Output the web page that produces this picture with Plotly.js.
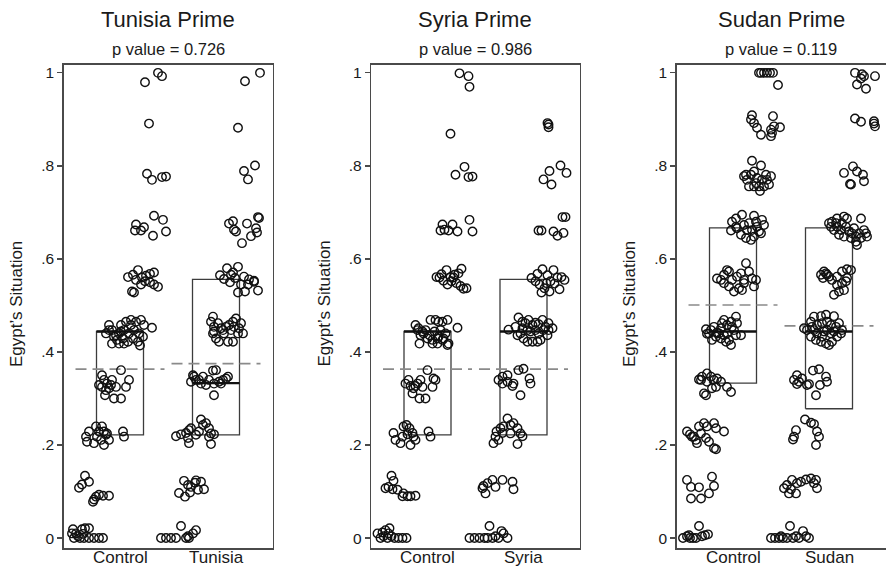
<!DOCTYPE html>
<html>
<head>
<meta charset="utf-8">
<script src="https://cdn.plot.ly/plotly-3.0.1.min.js"></script>
<style>
html,body{margin:0;padding:0;background:#ffffff;}
#chart{width:886px;height:569px;}
</style>
</head>
<body>
<div id="chart"></div>
<script>
// ---------------- DATA ----------------
const panelTitles = ["Tunisia Prime", "Syria Prime", "Sudan Prime"];
const pValues = ["p value = 0.726", "p value = 0.986", "p value = 0.119"];
const groupLabels = [["Control", "Tunisia"], ["Control", "Syria"], ["Control", "Sudan"]];
const yAxisTitle = "Egypt\u2019s Situation";
const yTickVals = [0, 0.2, 0.4, 0.6, 0.8, 1];
const yTickText = ["0", ".2", ".4", ".6", ".8", "1"];

// box statistics per panel: [control, treatment]
const boxQ1     = [[0.222, 0.222], [0.222, 0.222], [0.333, 0.278]];
const boxMedian = [[0.444, 0.333], [0.444, 0.444], [0.444, 0.444]];
const boxQ3     = [[0.444, 0.556], [0.444, 0.556], [0.667, 0.667]];
const groupMean = [[0.363, 0.375], [0.363, 0.363], [0.501, 0.456]];

// jittered points (x = strip position, y = Egypt's Situation)
const tunisiaControlX = [25,38,42, 29, 27,32,42,46, 16,15,21,24,34,43,46,33,
  8,13,18,22,26,30,34,16,12,14,21,25,30,34,38,
  -11,-14,-8,-4,1,6,11,16,21,24,32,-8,-3,3,8,13,18,20,-11,-6,-1,4,9,14,19,4,-1,23,11,1,
  -18,-16,-21,-18,-13,-8,-4,-11,-15,-6,1,1,9,6,-14,-9,
  -34,-31,-33,-26,-24,-21,-18,-16,-14,-23,-19,-11,-16,3,4,-13,
  -41,-38,-35,-31,-26,-24,-21,-17,-11,-27,
  -48,-46,-42,-38,-35,-31,-40,-36,-31,-26,-21,-17,-47,-44,-37];
const tunisiaControlY = [0.980,1.000,0.993, 0.891, 0.783,0.770,0.776,0.777,
  0.674,0.661,0.661,0.668,0.693,0.684,0.659,0.650,
  0.561,0.566,0.576,0.560,0.564,0.568,0.571,0.555,0.530,0.528,0.545,0.552,0.550,0.545,0.540,
  0.458,0.440,0.447,0.436,0.444,0.465,0.469,0.465,0.469,0.458,0.452,0.418,0.426,0.429,0.422,0.429,0.422,0.414,0.447,0.433,0.440,0.447,0.440,0.447,0.440,0.418,0.418,0.433,0.458,0.458,
  0.350,0.340,0.329,0.325,0.332,0.340,0.325,0.322,0.307,0.300,0.300,0.361,0.340,0.325,0.318,0.329,
  0.218,0.229,0.207,0.204,0.240,0.229,0.240,0.229,0.222,0.218,0.211,0.211,0.200,0.229,0.218,0.225,
  0.108,0.115,0.134,0.121,0.083,0.089,0.093,0.091,0.091,0.078,
  0.010,0,0.004,0.019,0.021,0.021,0,0,0,0,0,0,0.019,0.010,0.009];

const tunisiaTreatX = [125,140, 118, 124,128,135,
  109,113,114,116,127,138,139,136,137,131,122,
  100,107,111,115,118,124,129,134,110,121,125,128,134,138,118,104,113,
  93,91,94,93,96,99,103,106,109,113,116,121,123,118,108,113,98,101,111,104,94,119,114,
  73,76,74,79,83,86,89,94,99,103,106,108,96,93,94,71,81,101,
  56,61,66,69,71,68,69,81,83,86,89,91,94,89,91,79,76,
  64,68,71,75,76,81,84,78,59,65,70,
  41,46,51,56,61,66,68,73,76,69];
const tunisiaTreatY = [0.982,1.000, 0.882, 0.789,0.771,0.801,
  0.676,0.681,0.663,0.659,0.676,0.690,0.688,0.666,0.657,0.649,0.634,
  0.565,0.580,0.566,0.559,0.583,0.562,0.556,0.551,0.550,0.545,0.530,0.545,0.553,0.532,0.528,0.557,0.571,
  0.476,0.465,0.454,0.440,0.429,0.422,0.447,0.454,0.458,0.465,0.472,0.462,0.440,0.440,0.422,0.422,0.462,0.451,0.447,0.440,0.444,0.451,0.454,
  0.350,0.340,0.347,0.340,0.347,0.329,0.340,0.332,0.336,0.340,0.343,0.347,0.361,0.360,0.307,0.336,0.332,0.332,
  0.219,0.223,0.226,0.232,0.236,0.215,0.204,0.255,0.243,0.247,0.236,0.225,0.223,0.218,0.202,0.229,0.222,
  0.123,0.114,0.110,0.119,0.124,0.121,0.105,0.104,0.097,0.089,0.098,
  0,0,0,0,0.026,0,0.004,0.010,0.017,0];

const syriaControlX = [32,41,42, 23, 28,37,41,45,
  15,17,21,25,30,42,45,13,
  9,14,19,23,27,31,34,16,20,24,29,33,36,39,26,12,
  -12,-9,-5,-2,3,8,11,15,20,30,-7,0,5,10,15,20,-10,-4,2,7,11,16,21,5,10,-8,18,13,
  -19,-17,-14,-10,-7,-15,-8,-2,0,5,8,6,-22,-5,-12,
  -34,-32,-27,-24,-21,-18,-15,-14,-17,-12,1,3,-20,-25,
  -36,-34,-39,-42,-35,-30,-25,-20,-17,-12,-24,
  -50,-47,-44,-42,-38,-40,-36,-33,-29,-25,-21,-45,-39];
const syriaControlY = [0.999,0.993,0.970, 0.869, 0.781,0.798,0.776,0.777,
  0.674,0.663,0.661,0.674,0.659,0.684,0.659,0.661,
  0.561,0.567,0.576,0.561,0.566,0.569,0.579,0.553,0.545,0.552,0.548,0.542,0.536,0.537,0.560,0.560,
  0.458,0.451,0.444,0.447,0.469,0.469,0.465,0.465,0.469,0.452,0.436,0.429,0.426,0.429,0.426,0.415,0.447,0.440,0.436,0.444,0.433,0.429,0.418,0.418,0.418,0.418,0.440,0.447,
  0.340,0.327,0.322,0.332,0.340,0.311,0.300,0.300,0.361,0.325,0.340,0.343,0.332,0.325,0.327,
  0.226,0.211,0.204,0.240,0.243,0.236,0.226,0.218,0.200,0.211,0.229,0.218,0.223,0.218,
  0.134,0.123,0.110,0.107,0.105,0.104,0.090,0.090,0.090,0.091,0.096,
  0.010,0,0.004,0.017,0.021,0,0.004,0,0,0,0,0.012,0.010];

const syriaTreatX = [120,121,121, 116,124,122,133,139,
  111,114,126,130,135,138,136,
  104,110,115,120,126,130,134,137,112,117,122,127,132,114,108,123,119,
  81,88,91,95,98,101,105,108,111,115,118,121,125,93,96,100,105,110,113,120,103,108,100,95,116,111,90,121,
  71,75,80,75,80,85,91,96,102,103,93,86,
  66,68,69,73,76,80,83,86,90,93,95,90,83,75,71,
  55,58,60,65,68,75,85,86,56,
  42,47,52,57,62,65,68,71,74,76,80,60];
const syriaTreatY = [0.892,0.889,0.883, 0.771,0.760,0.789,0.801,0.785,
  0.661,0.661,0.659,0.650,0.690,0.690,0.656,
  0.559,0.568,0.578,0.565,0.576,0.560,0.561,0.555,0.545,0.537,0.530,0.547,0.535,0.528,0.552,0.552,0.548,
  0.448,0.454,0.474,0.465,0.462,0.469,0.458,0.463,0.460,0.469,0.454,0.462,0.451,0.440,0.429,0.422,0.422,0.422,0.426,0.436,0.444,0.447,0.447,0.451,0.447,0.440,0.436,0.447,
  0.340,0.347,0.350,0.332,0.336,0.327,0.361,0.364,0.343,0.332,0.307,0.332,
  0.204,0.218,0.229,0.236,0.240,0.257,0.243,0.247,0.236,0.225,0.219,0.202,0.225,0.226,0.211,
  0.107,0.096,0.118,0.125,0.110,0.125,0.121,0.105,0.112,
  0,0,0,0,0.026,0,0.004,0,0.015,0.010,0,0];

const sudanControlX = [26,28,31,34,37,40,45,
  19,18,21,24,28,40,38,39,38,47,41,
  19,28,13,14,16,21,24,27,31,36,38,33,23,18,29,34,26,21,11,
  -1,3,9,21,29,31,-2,4,11,16,23,26,28,8,13,18,21,3,14,19,24,
  -16,-12,-9,-6,-4,-1,4,11,13,16,19,23,21,1,6,9,11,-9,-4,8,
  -27,-26,-22,-19,-16,-12,-9,-6,-2,3,4,1,8,-21,-17,-12,-7,-4,-2,-9,-14,-6,-24,3,-11,-1,
  -34,-31,-26,-22,-19,-16,-12,-6,-2,-29,-27,-21,-17,-26,-32,
  -46,-43,-41,-37,-36,-34,-32,-29,-26,-24,-19,-17,-9,-19,-17,-27,-39,
  -46,-42,-34,-21,-19,-24,-32,-42,
  -50,-46,-43,-40,-37,-34,-31,-28,-25,-44];
const sudanControlY = [1,1,1,1,1,1,0.974,
  0.909,0.900,0.892,0.882,0.867,0.907,0.878,0.871,0.864,0.883,0.885,
  0.811,0.801,0.781,0.770,0.756,0.788,0.774,0.746,0.756,0.760,0.778,0.781,0.763,0.781,0.770,0.770,0.756,0.756,0.778,
  0.680,0.687,0.695,0.693,0.684,0.673,0.661,0.666,0.673,0.677,0.680,0.659,0.655,0.652,0.645,0.641,0.648,0.669,0.662,0.662,0.669,
  0.558,0.555,0.566,0.576,0.573,0.555,0.562,0.555,0.591,0.573,0.558,0.555,0.541,0.530,0.537,0.533,0.548,0.548,0.541,0.569,
  0.449,0.439,0.447,0.454,0.442,0.451,0.469,0.458,0.465,0.476,0.462,0.447,0.436,0.426,0.433,0.429,0.422,0.426,0.415,0.436,0.440,0.440,0.440,0.436,0.462,0.454,
  0.341,0.347,0.354,0.347,0.340,0.343,0.336,0.325,0.314,0.311,0.307,0.322,0.325,0.336,0.340,
  0.229,0.223,0.218,0.211,0.204,0.240,0.225,0.247,0.240,0.207,0.247,0.236,0.229,0.193,0.191,0.215,0.218,
  0.125,0.110,0.109,0.132,0.112,0.096,0.085,0.085,
  0,0.004,0,0,0,0.026,0.004,0.006,0.008,0.006];

const sudanTreatX = [122,129,131,128,124,133,142,
  122,128,141,141,142,
  111,120,124,130,131,117,118,
  96,99,104,111,114,109,104,101,98,108,113,116,119,123,128,131,134,128,123,126,118,111,106,103,121,133,124,
  88,90,93,96,99,104,109,114,118,114,109,104,111,101,94,91,113,106,
  71,78,81,88,93,101,106,109,74,79,84,89,94,98,103,78,83,88,93,96,99,104,84,91,98,94,81,101,108,89,
  61,64,66,69,74,76,80,86,87,93,94,83,64,
  72,78,81,63,61,60,84,86,83,
  51,54,56,59,63,64,68,73,78,83,84,81,58,
  38,42,46,50,54,57,60,63,66,70,73,76,48];
const sudanTreatY = [1,0.997,0.993,0.988,0.975,0.966,0.993,
  0.902,0.895,0.896,0.891,0.885,
  0.785,0.799,0.788,0.781,0.767,0.761,0.760,
  0.677,0.680,0.687,0.691,0.687,0.677,0.669,0.662,0.669,0.662,0.669,0.659,0.655,0.648,0.687,0.662,0.648,0.645,0.637,0.655,0.645,0.648,0.652,0.677,0.666,0.655,0.630,
  0.566,0.559,0.569,0.562,0.555,0.562,0.573,0.578,0.576,0.559,0.548,0.544,0.533,0.523,0.566,0.573,0.552,0.530,
  0.451,0.465,0.476,0.477,0.480,0.477,0.462,0.447,0.447,0.454,0.458,0.462,0.465,0.458,0.454,0.433,0.426,0.422,0.418,0.415,0.422,0.433,0.440,0.444,0.440,0.447,0.447,0.444,0.440,0.433,
  0.340,0.350,0.336,0.343,0.329,0.331,0.360,0.363,0.329,0.347,0.336,0.307,0.331,
  0.255,0.248,0.245,0.232,0.218,0.212,0.229,0.218,0.200,
  0.107,0.114,0.096,0.125,0.096,0.118,0.121,0.126,0.128,0.125,0.107,0.118,0.105,
  0,0,0,0,0,0.026,0,0.004,0,0.015,0.004,0,0.004];

// ---------------- LAYOUT / STYLE ----------------
const W = 886, H = 569;
const FONT = '"Liberation Sans", Arial, Helvetica, sans-serif';
const TEXT = '#1a1a1a';
const FRAME = '#4a4a4a';
const panelLeft = [63.5, 371, 676.5];
const panelWidth = 209;
const plotTop = 64.5, plotBottom = 548.3;
const groupX = [0, 96];
const xRange = [-56.5, 152.5];
const yRange = [-0.022, 1.018];
const boxHalf = 23.5, meanHalf = 44.5;

const pointsX = [[tunisiaControlX, tunisiaTreatX], [syriaControlX, syriaTreatX], [sudanControlX, sudanTreatX]];
const pointsY = [[tunisiaControlY, tunisiaTreatY], [syriaControlY, syriaTreatY], [sudanControlY, sudanTreatY]];

const traces = [];
const layout = {
  width: W, height: H,
  margin: {l: 0, r: 0, t: 0, b: 0, pad: 0},
  paper_bgcolor: '#ffffff', plot_bgcolor: '#ffffff',
  showlegend: false,
  font: {family: FONT, color: TEXT},
  annotations: []
};

for (let p = 0; p < 3; p++) {
  const xa = p === 0 ? 'x' : 'x' + (p + 1);
  const ya = p === 0 ? 'y' : 'y' + (p + 1);
  for (let g = 0; g < 2; g++) {
    const c = groupX[g];
    traces.push({type: 'scatter', mode: 'lines', xaxis: xa, yaxis: ya, hoverinfo: 'skip',
      x: [c - boxHalf, c + boxHalf, c + boxHalf, c - boxHalf, c - boxHalf],
      y: [boxQ1[p][g], boxQ1[p][g], boxQ3[p][g], boxQ3[p][g], boxQ1[p][g]],
      line: {color: '#3c3c3c', width: 1.3}});
    traces.push({type: 'scatter', mode: 'lines', xaxis: xa, yaxis: ya, hoverinfo: 'skip',
      x: [c - boxHalf, c + boxHalf], y: [boxMedian[p][g], boxMedian[p][g]],
      line: {color: '#111111', width: 2.4}});
    traces.push({type: 'scatter', mode: 'lines', xaxis: xa, yaxis: ya, hoverinfo: 'skip',
      x: [c - meanHalf, c + meanHalf], y: [groupMean[p][g], groupMean[p][g]],
      line: {color: '#8a8a8a', width: 1.7, dash: '11px,6px'}});
    traces.push({type: 'scatter', mode: 'markers', xaxis: xa, yaxis: ya,
      x: pointsX[p][g], y: pointsY[p][g],
      marker: {symbol: 'circle-open', size: 8.5, color: '#111111', line: {width: 1.4}}});
    // x category label
    layout.annotations.push({xref: xa, yref: 'paper', x: c, y: (H - 557) / H,
      xanchor: 'center', yanchor: 'middle', showarrow: false, text: groupLabels[p][g],
      font: {family: FONT, size: 17, color: TEXT}});
  }
  const l = panelLeft[p];
  const xKey = p === 0 ? 'xaxis' : 'xaxis' + (p + 1);
  const yKey = p === 0 ? 'yaxis' : 'yaxis' + (p + 1);
  layout[xKey] = {
    domain: [l / W, (l + panelWidth) / W], range: xRange, anchor: ya,
    showticklabels: false, ticks: '',
    showline: true, mirror: true, linecolor: FRAME, linewidth: 1.3,
    showgrid: false, zeroline: false, fixedrange: true
  };
  layout[yKey] = {
    domain: [(H - plotBottom) / H, (H - plotTop) / H], range: yRange, anchor: xa,
    tickmode: 'array', tickvals: yTickVals, ticktext: yTickText,
    ticks: 'outside', ticklen: 5, tickwidth: 1.2, tickcolor: FRAME,
    showline: true, mirror: true, linecolor: FRAME, linewidth: 1.3,
    showgrid: false, zeroline: false, fixedrange: true,
    tickfont: {family: FONT, size: 15.5, color: TEXT}
  };
  const cx = (l + panelWidth / 2) / W;
  layout.annotations.push({xref: 'paper', yref: 'paper', x: cx, y: (H - 20) / H,
    xanchor: 'center', yanchor: 'middle', showarrow: false, text: panelTitles[p],
    font: {family: FONT, size: 22, color: TEXT}});
  layout.annotations.push({xref: 'paper', yref: 'paper', x: cx, y: (H - 49.5) / H,
    xanchor: 'center', yanchor: 'middle', showarrow: false, text: pValues[p],
    font: {family: FONT, size: 16.5, color: TEXT}});
  layout.annotations.push({xref: 'paper', yref: 'paper', x: (l - 46.5) / W, y: (H - 304) / H,
    xanchor: 'center', yanchor: 'middle', showarrow: false, textangle: -90, text: yAxisTitle,
    font: {family: FONT, size: 17, color: TEXT}});
}

Plotly.newPlot('chart', traces, layout, {displayModeBar: false, staticPlot: true});
</script>
</body>
</html>
